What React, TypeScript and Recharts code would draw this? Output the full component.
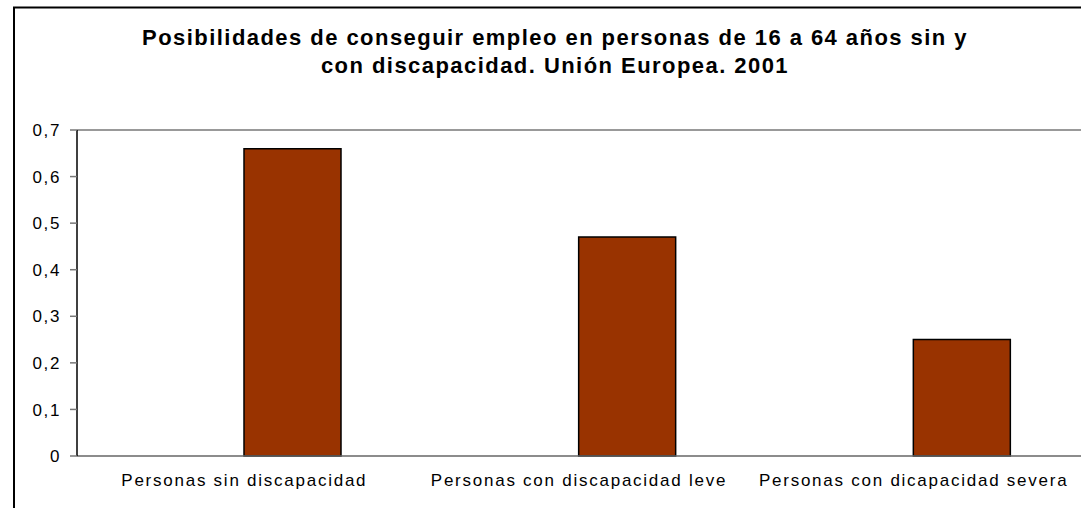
import React from "react";
import {
  BarChart,
  Bar,
  XAxis,
  YAxis,
  ReferenceLine,
} from "recharts";

const categories = [
  "Personas sin discapacidad",
  "Personas con discapacidad leve",
  "Personas con dicapacidad severa",
];
const possibilities = [0.66, 0.47, 0.25];
const yTicks = [0, 0.1, 0.2, 0.3, 0.4, 0.5, 0.6, 0.7];
const titleLines = [
  "Posibilidades de conseguir empleo en personas de 16 a 64 años sin y",
  "con discapacidad. Unión Europea. 2001",
];

const data = categories.map((c, i) => ({
  name: c,
  empty: null,
  value: possibilities[i],
}));

const FONT = "Arial, 'Liberation Sans', sans-serif";

const YTick = (props: any) => {
  const { x, y, payload } = props;
  return (
    <text
      x={x}
      y={y}
      dy="0.36em"
      textAnchor="end"
      fontFamily={FONT}
      fontSize={17}
      letterSpacing={1.6}
      fill="#000"
    >
      {String(payload.value).replace(".", ",")}
    </text>
  );
};

const XTick = (props: any) => {
  const { x, y, payload } = props;
  return (
    <text
      x={x}
      y={y + 30}
      textAnchor="middle"
      fontFamily={FONT}
      fontSize={17}
      letterSpacing={1.75}
      fill="#000"
    >
      {payload.value}
    </text>
  );
};

export default function App() {
  return (
    <div
      style={{
        position: "absolute",
        left: 0,
        top: 0,
        width: 1081,
        height: 508,
        overflow: "hidden",
        background: "#fff",
      }}
    >
      <div
        style={{
          position: "absolute",
          left: 0,
          top: 24,
          width: 1110,
          textAlign: "center",
          fontFamily: FONT,
          fontWeight: "bold",
          fontSize: 22,
          lineHeight: "28px",
          letterSpacing: 1.45,
          color: "#000",
        }}
      >
        {titleLines.map((t) => (
          <div key={t}>{t}</div>
        ))}
      </div>
      <div style={{ position: "absolute", left: 0, top: 0 }}>
        <BarChart
          width={1081}
          height={508}
          data={data}
          margin={{ top: 130, right: 0, bottom: 0, left: 0 }}
          barGap={0}
          barSize={97}
        >
          <XAxis
            dataKey="name"
            height={52}
            tickLine={false}
            tickSize={0}
            tickMargin={0}
            axisLine={{ stroke: "#666", strokeWidth: 1.5 }}
            tick={<XTick />}
            interval={0}
          />
          <YAxis
            domain={[0, 0.7]}
            ticks={yTicks}
            width={77}
            tickSize={7}
            tickMargin={9}
            tickLine={{ stroke: "#777", strokeWidth: 1.5 }}
            axisLine={{ stroke: "#000", strokeWidth: 1.5 }}
            tick={<YTick />}
            interval={0}
          />
          <ReferenceLine y={0.7} stroke="#999" strokeWidth={2} />
          <Bar dataKey="empty" fill="none" isAnimationActive={false} />
          <Bar
            dataKey="value"
            fill="#993300"
            stroke="#000"
            strokeWidth={1.5}
            isAnimationActive={false}
          />
        </BarChart>
      </div>
      <svg
        width={1081}
        height={508}
        style={{ position: "absolute", left: 0, top: 0, pointerEvents: "none" }}
      >
        <polyline
          points="14,508 14,7.5 1081,7.5"
          fill="none"
          stroke="#000"
          strokeWidth={2}
        />
      </svg>
    </div>
  );
}
